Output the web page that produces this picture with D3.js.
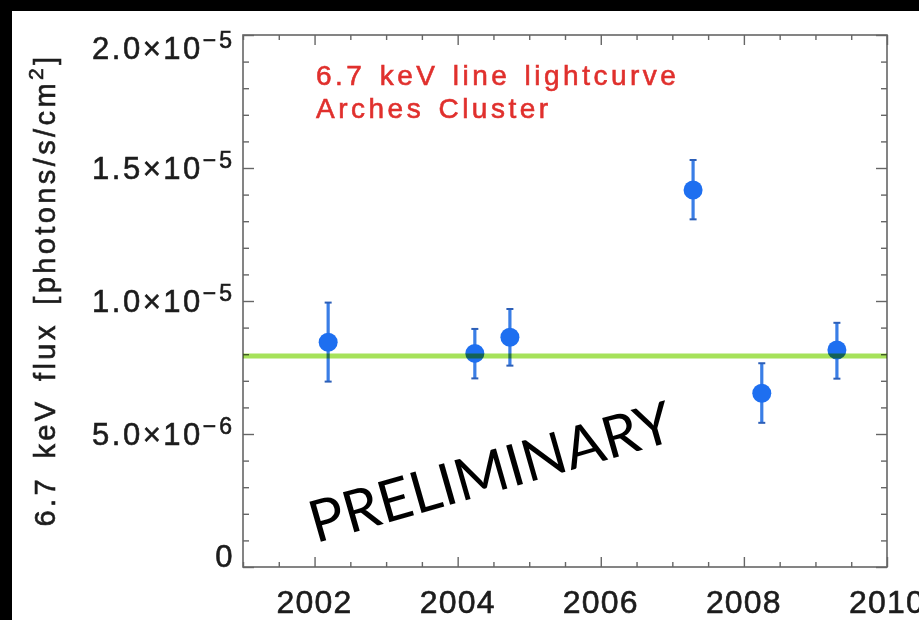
<!DOCTYPE html>
<html>
<head>
<meta charset="utf-8">
<script src="https://cdn.jsdelivr.net/npm/d3@7"></script>
<style>
  html, body { margin: 0; padding: 0; background: #000; }
  svg { display: block; }
</style>
</head>
<body>
<script>
// Arches Cluster 6.7 keV line flux per observation epoch
const epochs   = [2002.19, 2004.24, 2004.73, 2007.29, 2008.25, 2009.30];
const fluxes   = [8.45e-6, 8.03e-6, 8.64e-6, 1.417e-5, 6.53e-6, 8.16e-6];
const errLow   = [6.97e-6, 7.09e-6, 7.57e-6, 1.307e-5, 5.42e-6, 7.08e-6];
const errHigh  = [9.94e-6, 8.95e-6, 9.70e-6, 1.530e-5, 7.66e-6, 9.18e-6];
const meanFlux = 7.93e-6;

// axis ticks and labels
const xMajorTicks = [2002, 2004, 2006, 2008, 2010];
const xMinorStep  = 0.5;
const yTickValues = [0, 5e-6, 1e-5, 1.5e-5, 2e-5];
const yTickBase   = ["0", "5.0\u00d710", "1.0\u00d710", "1.5\u00d710", "2.0\u00d710"];
const yTickExp    = ["", "\u22126", "\u22125", "\u22125", "\u22125"];
const yMinorStep  = 1e-6;

const W = 919, H = 620;
const frame = { left: 243, right: 887, top: 35, bottom: 567 };
const FONT = "Liberation Sans, Arial, sans-serif";
const INK = "#1c1c1c";

const svg = d3.select("body").append("svg").attr("width", W).attr("height", H);

svg.append("rect").attr("width", W).attr("height", H).attr("fill", "#000");
svg.append("rect").attr("x", 12).attr("y", 11).attr("width", W - 12).attr("height", H - 11).attr("fill", "#fff");

const x = d3.scaleLinear().domain([2001, 2010]).range([frame.left, frame.right]);
const y = d3.scaleLinear().domain([0, 2e-5]).range([frame.bottom, frame.top]);

const xMinor = d3.range(2001, 2010.001, xMinorStep).filter(v => !xMajorTicks.includes(v));
const yMinor = d3.range(0, 2.0001e-5, yMinorStep).filter(v => !yTickValues.some(t => Math.abs(t - v) < 1e-9));

const tickColor = "#666";
function styleAxis(g) {
  g.select(".domain").remove();
  g.selectAll(".tick line").attr("stroke", tickColor).attr("stroke-width", 1.4);
}

// inward-pointing ticks on all four sides
svg.append("g").attr("transform", `translate(0,${frame.bottom})`)
  .call(d3.axisBottom(x).tickValues(xMajorTicks).tickSize(-10).tickFormat("")).call(styleAxis);
svg.append("g").attr("transform", `translate(0,${frame.bottom})`)
  .call(d3.axisBottom(x).tickValues(xMinor).tickSize(-5).tickFormat("")).call(styleAxis);
svg.append("g").attr("transform", `translate(0,${frame.top})`)
  .call(d3.axisTop(x).tickValues(xMajorTicks).tickSize(-10).tickFormat("")).call(styleAxis);
svg.append("g").attr("transform", `translate(0,${frame.top})`)
  .call(d3.axisTop(x).tickValues(xMinor).tickSize(-5).tickFormat("")).call(styleAxis);
svg.append("g").attr("transform", `translate(${frame.left},0)`)
  .call(d3.axisLeft(y).tickValues(yTickValues).tickSize(-11).tickFormat("")).call(styleAxis);
svg.append("g").attr("transform", `translate(${frame.left},0)`)
  .call(d3.axisLeft(y).tickValues(yMinor).tickSize(-6).tickFormat("")).call(styleAxis);
svg.append("g").attr("transform", `translate(${frame.right},0)`)
  .call(d3.axisRight(y).tickValues(yTickValues).tickSize(-11).tickFormat("")).call(styleAxis);
svg.append("g").attr("transform", `translate(${frame.right},0)`)
  .call(d3.axisRight(y).tickValues(yMinor).tickSize(-6).tickFormat("")).call(styleAxis);

svg.append("rect")
  .attr("x", frame.left).attr("y", frame.top)
  .attr("width", frame.right - frame.left).attr("height", frame.bottom - frame.top)
  .attr("fill", "none").attr("stroke", tickColor).attr("stroke-width", 1.6);

// x tick labels
svg.append("g").selectAll("text").data(xMajorTicks).join("text")
  .attr("x", d => x(d)).attr("y", 613)
  .attr("text-anchor", "middle")
  .attr("font-family", FONT)
  .attr("font-size", 32).attr("letter-spacing", 1.2)
  .attr("fill", INK).attr("stroke", INK).attr("stroke-width", 0.6)
  .text(d => d);

// y tick labels with superscript exponents; end labels kept inside the frame
const yLab = svg.append("g").selectAll("text").data(yTickValues).join("text")
  .attr("x", frame.left - 8)
  .attr("y", d => Math.min(Math.max(y(d), frame.top + 12.5), frame.bottom - 11) + 11)
  .attr("text-anchor", "end")
  .attr("font-family", FONT)
  .attr("font-size", 31).attr("letter-spacing", 2.5)
  .attr("fill", INK).attr("stroke", INK).attr("stroke-width", 0.6);
yLab.append("tspan").text((d, i) => yTickBase[i]);
yLab.append("tspan").attr("dy", -11).attr("font-size", 23).attr("letter-spacing", 3)
  .text((d, i) => yTickExp[i]);

// y axis title
const yTitle = svg.append("text")
  .attr("transform", "translate(55,290) rotate(-90)")
  .attr("text-anchor", "middle")
  .attr("font-family", FONT)
  .attr("font-size", 29).attr("letter-spacing", 3.4).attr("word-spacing", 6)
  .attr("fill", INK).attr("stroke", INK).attr("stroke-width", 0.6);
yTitle.append("tspan").text("6.7 keV flux [photons/s/cm");
yTitle.append("tspan").attr("dy", -12).attr("font-size", 21).text("2");
yTitle.append("tspan").attr("dy", 12).text("]");

// error bars and caps
const pts = epochs.map((e, i) => ({ e, f: fluxes[i], lo: errLow[i], hi: errHigh[i] }));
const bars = svg.append("g");
bars.selectAll("line.err").data(pts).join("line").attr("class", "err")
  .attr("x1", d => x(d.e)).attr("x2", d => x(d.e))
  .attr("y1", d => y(d.lo)).attr("y2", d => y(d.hi))
  .attr("stroke", "#3a7ee6").attr("stroke-width", 3.2);
["lo", "hi"].forEach(k => {
  bars.selectAll("line.cap-" + k).data(pts).join("line").attr("class", "cap-" + k)
    .attr("x1", d => x(d.e) - 3.5).attr("x2", d => x(d.e) + 3.5)
    .attr("y1", d => y(d[k])).attr("y2", d => y(d[k]))
    .attr("stroke", "#2c5fb8").attr("stroke-width", 2);
});

// data points
svg.append("g").selectAll("circle").data(pts).join("circle")
  .attr("cx", d => x(d.e)).attr("cy", d => y(d.f)).attr("r", 9.5)
  .attr("fill", "#1e6ff0");

// constant-flux fit
svg.append("line")
  .attr("x1", x(2001)).attr("x2", x(2010))
  .attr("y1", y(meanFlux)).attr("y2", y(meanFlux))
  .attr("stroke", "#a6e25a").attr("stroke-width", 5)
  .style("mix-blend-mode", "multiply");

// in-plot caption
const cap = svg.append("g")
  .attr("font-family", FONT)
  .attr("font-size", 28).attr("letter-spacing", 3.5).attr("word-spacing", 3)
  .attr("fill", "#e0302d").attr("stroke", "#e0302d").attr("stroke-width", 0.6);
cap.append("text").attr("x", 316).attr("y", 85).text("6.7 keV line lightcurve");
cap.append("text").attr("x", 316).attr("y", 118).text("Arches Cluster");

// watermark
svg.append("text")
  .attr("transform", "translate(490,470) rotate(-16)")
  .attr("text-anchor", "middle").attr("dominant-baseline", "central")
  .attr("font-family", "Lato, sans-serif")
  .attr("font-size", 58)
  .attr("fill", "#000")
  .text("PRELIMINARY");
</script>
</body>
</html>
